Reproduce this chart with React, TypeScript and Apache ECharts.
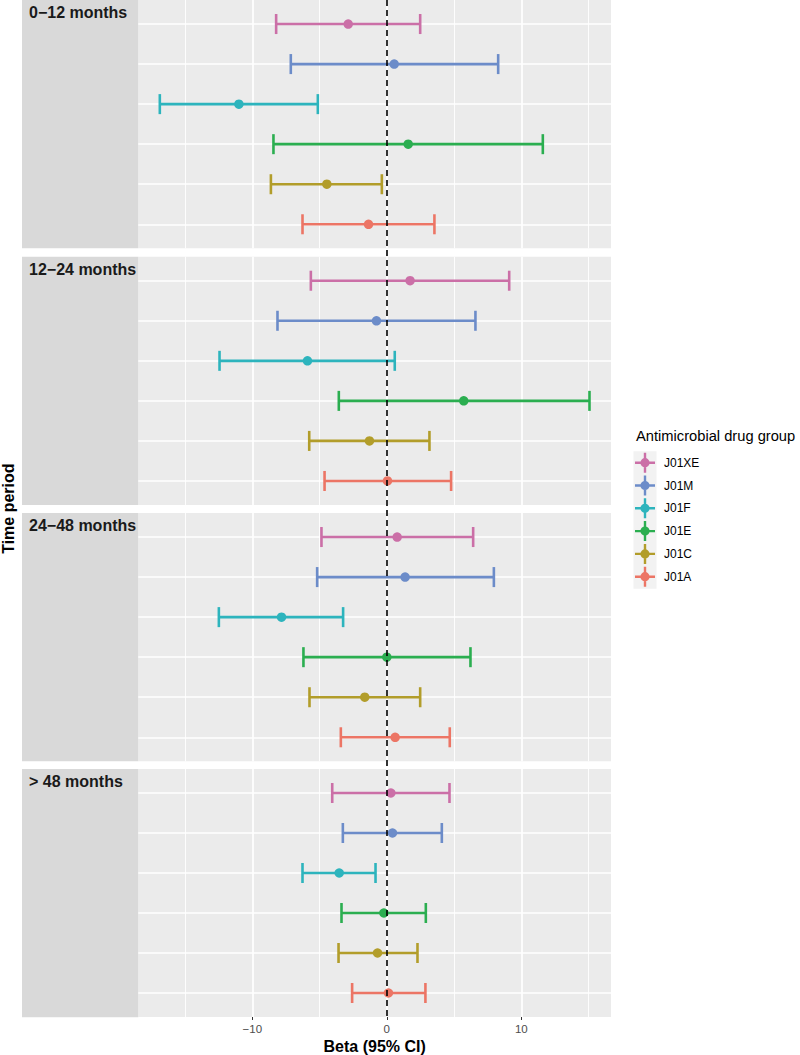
import React, { useEffect, useRef } from 'react';
import * as echarts from 'echarts';

// ---------- data ----------
const periods = ['0−12 months', '12−24 months', '24−48 months', '> 48 months'];
const groups = ['J01XE', 'J01M', 'J01F', 'J01E', 'J01C', 'J01A'];
const groupColors = ['#CB6FA7', '#6C8CC9', '#2DB4BD', '#2BAE50', '#B29D2A', '#EC7565'];

// Beta estimates and 95% CI per period (order follows `groups`)
const est0to12 = [-2.87, 0.55, -11.0, 1.59, -4.46, -1.36];
const low0to12 = [-8.23, -7.14, -16.88, -8.43, -8.62, -6.27];
const high0to12 = [2.48, 8.28, -5.13, 11.6, -0.37, 3.54];

const est12to24 = [1.73, -0.77, -5.9, 5.72, -1.29, 0.05];
const low12to24 = [-5.65, -8.13, -12.44, -3.57, -5.77, -4.63];
const high12to24 = [9.1, 6.59, 0.59, 15.07, 3.17, 4.78];

const est24to48 = [0.77, 1.36, -7.83, 0.0, -1.64, 0.62];
const low24to48 = [-4.86, -5.18, -12.49, -6.2, -5.75, -3.42];
const high24to48 = [6.42, 7.96, -3.25, 6.22, 2.48, 4.68];

const est48plus = [0.3, 0.42, -3.54, -0.22, -0.69, 0.12];
const low48plus = [-4.06, -3.27, -6.27, -3.37, -3.59, -2.58];
const high48plus = [4.66, 4.09, -0.84, 2.9, 2.28, 2.87];

const estimates = [est0to12, est12to24, est24to48, est48plus];
const lowers = [low0to12, low12to24, low24to48, low48plus];
const uppers = [high0to12, high12to24, high24to48, high48plus];

const majorBreaks = [-10, 0, 10];
const minorBreaks = [-15, -5, 5, 15];
const referenceLine = [0];

// ---------- layout / style ----------
const FONT = '"Liberation Sans", Arial, Helvetica, sans-serif';
const X_MIN = -18.48;
const X_MAX = 16.67;
const PANEL_LEFT = 138.3;
const PANEL_RIGHT = 189;
const PANEL_H = 248.3;
const PANEL_TOPS = [0, 256.7, 513, 769];
const STRIP_X = 22;
const CAP_WIDTH = 0.5;
const ICON =
  'path://M0 8.8H20V11.2H0Z M8.8 0H11.2V20H8.8Z M14.6 10A4.6 4.6 0 1 1 5.4 10A4.6 4.6 0 1 1 14.6 10Z';

const fmt = (v: number) => (v < 0 ? '−' + Math.abs(v) : String(v));

export default function App() {
  const ref = useRef<HTMLDivElement>(null);

  useEffect(() => {
    const chart = echarts.init(ref.current!, null, { renderer: 'svg' });
    const nP = periods.length;

    const grids: any[] = PANEL_TOPS.map((t) => ({
      left: PANEL_LEFT,
      right: PANEL_RIGHT,
      top: t,
      height: PANEL_H,
      show: true,
      backgroundColor: '#EBEBEB',
      borderWidth: 0,
    }));
    grids.push({
      left: PANEL_LEFT,
      right: PANEL_RIGHT,
      top: 0,
      height: PANEL_TOPS[nP - 1] + PANEL_H,
      show: false,
    });

    const xAxes: any[] = grids.map((_, i) => {
      const bottom = i === nP - 1;
      return {
        type: 'value',
        gridIndex: i,
        min: X_MIN,
        max: X_MAX,
        show: bottom,
        axisLine: { show: false },
        splitLine: { show: false },
        axisTick: {
          show: bottom,
          length: 3,
          customValues: majorBreaks,
          lineStyle: { color: '#333333', width: 1 },
        },
        axisLabel: {
          show: bottom,
          customValues: majorBreaks,
          formatter: fmt,
          color: '#4D4D4D',
          fontSize: 11.5,
          fontFamily: FONT,
          margin: 6,
        },
        name: bottom ? 'Beta (95% CI)' : '',
        nameLocation: 'middle',
        nameGap: 21,
        nameTextStyle: { fontFamily: FONT, fontSize: 16, fontWeight: 'bold', color: '#000' },
      };
    });

    const yAxes: any[] = grids.map((_, i) => ({
      type: 'value',
      gridIndex: i,
      min: i < nP ? 0.4 : 0,
      max: i < nP ? groups.length + 0.6 : 1,
      inverse: true,
      show: false,
    }));

    const series: any[] = [];
    const white = (w: number) => ({ color: '#FFFFFF', width: w, type: 'solid' });

    // gridlines per panel
    for (let p = 0; p < nP; p++) {
      series.push({
        type: 'line',
        xAxisIndex: p,
        yAxisIndex: p,
        data: [],
        z: 1,
        silent: true,
        markLine: {
          z: 1,
          silent: true,
          animation: false,
          symbol: ['none', 'none'],
          label: { show: false },
          emphasis: { disabled: true },
          data: [
            ...minorBreaks.map((v) => ({ xAxis: v, lineStyle: white(0.9) })),
            ...majorBreaks.map((v) => ({ xAxis: v, lineStyle: white(1.7) })),
            ...groups.map((_, g) => ({ yAxis: g + 1, lineStyle: white(1.7) })),
          ],
        },
      });
    }

    // points first (legend picks them up)
    for (let p = 0; p < nP; p++) {
      groups.forEach((name, g) => {
        series.push({
          type: 'scatter',
          name,
          xAxisIndex: p,
          yAxisIndex: p,
          data: [[estimates[p][g], g + 1]],
          symbol: 'circle',
          symbolSize: 9.5,
          itemStyle: { color: groupColors[g], opacity: 1 },
          z: 4,
          silent: true,
        });
      });
    }

    // error bars
    for (let p = 0; p < nP; p++) {
      groups.forEach((name, g) => {
        const color = groupColors[g];
        series.push({
          type: 'custom',
          name,
          xAxisIndex: p,
          yAxisIndex: p,
          data: [[lowers[p][g], uppers[p][g], g + 1]],
          encode: { x: [0, 1], y: 2 },
          itemStyle: { color },
          z: 3,
          silent: true,
          renderItem: (params: any, api: any) => {
            const y = api.value(2);
            const a = api.coord([api.value(0), y]);
            const b = api.coord([api.value(1), y]);
            const h = api.size([0, CAP_WIDTH])[1] / 2;
            const style = { stroke: color, lineWidth: 2.6, fill: 'none' };
            return {
              type: 'group',
              children: [
                { type: 'line', shape: { x1: a[0], y1: a[1], x2: b[0], y2: b[1] }, style },
                { type: 'line', shape: { x1: a[0], y1: a[1] - h, x2: a[0], y2: a[1] + h }, style },
                { type: 'line', shape: { x1: b[0], y1: b[1] - h, x2: b[0], y2: b[1] + h }, style },
              ],
            };
          },
        });
      });
    }

    // dashed reference line across all panels
    series.push({
      type: 'line',
      xAxisIndex: nP,
      yAxisIndex: nP,
      data: [],
      z: 10,
      silent: true,
      markLine: {
        z: 10,
        silent: true,
        animation: false,
        symbol: ['none', 'none'],
        label: { show: false },
        emphasis: { disabled: true },
        data: referenceLine.map((v) => ({
          xAxis: v,
          lineStyle: { color: '#000000', width: 1.6, type: [6, 4] },
        })),
      },
    });

    const graphics: any[] = [];
    PANEL_TOPS.forEach((t, p) => {
      graphics.push({
        type: 'rect',
        shape: { x: STRIP_X, y: t, width: PANEL_LEFT - STRIP_X, height: PANEL_H },
        style: { fill: '#D9D9D9' },
        silent: true,
      });
      graphics.push({
        type: 'text',
        x: 29,
        y: t + 12.5,
        style: {
          text: periods[p],
          fill: '#1A1A1A',
          font: `bold 16px ${FONT}`,
          align: 'left',
          verticalAlign: 'middle',
        },
        silent: true,
      });
    });
    graphics.push({
      type: 'text',
      x: 8,
      y: (PANEL_TOPS[nP - 1] + PANEL_H) / 2,
      rotation: Math.PI / 2,
      style: {
        text: 'Time period',
        fill: '#000',
        font: `bold 16px ${FONT}`,
        align: 'center',
        verticalAlign: 'middle',
      },
      silent: true,
    });
    graphics.push({
      type: 'rect',
      shape: { x: 633.5, y: 451.3, width: 23, height: 137.5 },
      style: { fill: '#F2F2F2' },
      silent: true,
    });
    graphics.push({
      type: 'text',
      x: 636,
      y: 436,
      style: {
        text: 'Antimicrobial drug group',
        fill: '#000',
        font: `14.7px ${FONT}`,
        align: 'left',
        verticalAlign: 'middle',
      },
      silent: true,
    });

    chart.setOption({
      animation: false,
      backgroundColor: '#FFFFFF',
      grid: grids,
      xAxis: xAxes,
      yAxis: yAxes,
      legend: {
        orient: 'vertical',
        left: 635,
        top: 452.7,
        padding: 0,
        itemWidth: 20,
        itemHeight: 20,
        itemGap: 2.8,
        selectedMode: false,
        data: groups.map((g, i) => ({
          name: g,
          icon: ICON,
          itemStyle: { color: groupColors[i] },
        })),
        textStyle: { fontFamily: FONT, fontSize: 12, color: '#000', padding: [0, 0, 0, 4] },
      },
      graphic: graphics,
      series,
    });

    return () => chart.dispose();
  }, []);

  return (
    <div
      ref={ref}
      style={{ position: 'fixed', left: 0, top: 0, width: 800, height: 1055, background: '#fff' }}
    />
  );
}
